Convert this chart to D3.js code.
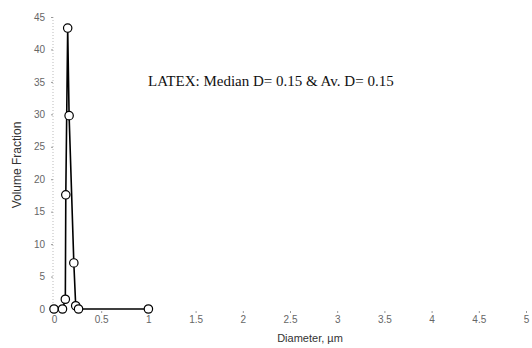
<!DOCTYPE html>
<html>
<head>
<meta charset="utf-8">
<script src="https://cdn.jsdelivr.net/npm/d3@7"></script>
<style>
body { margin: 0; background: #fff; }
svg text { font-family: "Liberation Sans", Arial, sans-serif; }
</style>
</head>
<body>
<svg id="chart" width="532" height="348"></svg>
<script>
// diameter (um) and volume fraction
var diameters = [0, 0.09, 0.12, 0.125, 0.145, 0.16, 0.21, 0.23, 0.26, 1];
var fractions = [0, 0, 1.5, 17.6, 43.3, 29.8, 7.1, 0.5, 0, 0];
var xTicks = [0, 0.5, 1, 1.5, 2, 2.5, 3, 3.5, 4, 4.5, 5];
var yTicks = [0, 5, 10, 15, 20, 25, 30, 35, 40, 45];

var svg = d3.select('#chart');
var x = d3.scaleLinear().domain([0, 5]).range([54, 526]);
var y = d3.scaleLinear().domain([0, 45]).range([309, 17]);

// faint dotted y axis line
svg.append('line')
    .attr('x1', 53).attr('x2', 53)
    .attr('y1', y(45)).attr('y2', y(0))
    .attr('stroke', '#bbb')
    .attr('stroke-dasharray', '1,2');

var yAxis = d3.axisLeft(y).tickValues(yTicks).tickSize(2).tickPadding(6);
var gy = svg.append('g').attr('transform', 'translate(53,0)').call(yAxis);
gy.select('.domain').remove();
gy.selectAll('.tick line').attr('stroke', '#999');
gy.selectAll('.tick text').attr('fill', '#666').style('font-size', '10px');

var xAxis = d3.axisBottom(x).tickValues(xTicks).tickSize(2).tickPadding(3)
    .tickFormat(function(d) { return String(d); });
var gx = svg.append('g').attr('transform', 'translate(0,311)').call(xAxis);
gx.select('.domain').remove();
gx.selectAll('.tick line').attr('stroke', '#999');
gx.selectAll('.tick text').attr('fill', '#666').style('font-size', '10px');

var pts = diameters.map(function(d, i) { return [d, fractions[i]]; });

svg.append('path')
    .datum(pts)
    .attr('fill', 'none')
    .attr('stroke', '#000')
    .attr('stroke-width', 1.6)
    .attr('d', d3.line().x(function(d) { return x(d[0]); }).y(function(d) { return y(d[1]); }));

svg.selectAll('.pt')
    .data(pts)
    .enter().append('circle')
    .attr('class', 'pt')
    .attr('cx', function(d) { return x(d[0]); })
    .attr('cy', function(d) { return y(d[1]); })
    .attr('r', 4.2)
    .attr('fill', '#fff')
    .attr('stroke', '#000')
    .attr('stroke-width', 1.2);

svg.append('text')
    .attr('x', 148).attr('y', 86)
    .style('font-family', '"Liberation Serif", "Times New Roman", serif')
    .style('font-size', '15px')
    .attr('fill', '#111')
    .text('LATEX: Median D= 0.15 & Av. D= 0.15');

svg.append('text')
    .attr('transform', 'translate(21,165) rotate(-90)')
    .attr('text-anchor', 'middle')
    .style('font-size', '12px')
    .attr('fill', '#333')
    .text('Volume Fraction');

svg.append('text')
    .attr('x', 310).attr('y', 342)
    .attr('text-anchor', 'middle')
    .style('font-size', '11px')
    .attr('fill', '#333')
    .text('Diameter, \u00b5m');
</script>
</body>
</html>
